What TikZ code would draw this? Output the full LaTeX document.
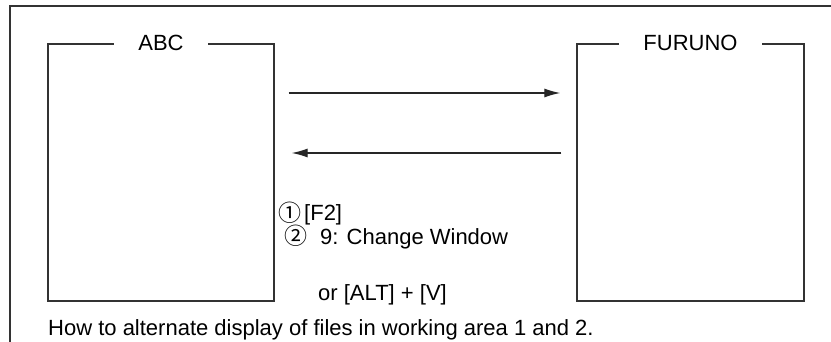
\documentclass[tikz,border=0pt]{standalone}
\usepackage{fontspec}
\setmainfont{Liberation Sans}
\newfontfamily\cjkcirc{Noto Sans CJK JP}
\usetikzlibrary{calc,arrows.meta}
\begin{document}
\begin{tikzpicture}[x=1pt,y=-1pt,
 frame/.style={draw=black!80, line width=1.6pt},
 panel/.style={draw=black!80, line width=1.3pt, minimum width=226pt, minimum height=257pt, inner sep=0pt},
 paneltitle/.style={fill=white, inner xsep=24pt, inner ysep=2pt, font=\fontsize{22}{26}\selectfont},
 txt/.style={anchor=base west, inner sep=0pt, font=\fontsize{22}{26}\selectfont},
 circnum/.style={anchor=base west, inner sep=0pt, font=\cjkcirc\fontsize{23}{26}\selectfont},
 arr/.style={draw=black!85, line width=1.2pt, -{Latex[length=16pt,width=9pt]}}]
\useasboundingbox (0,0) rectangle (831,342);
\coordinate (ftr) at (831,6);
\coordinate (ftl) at (10,6);
\coordinate (fbl) at (10,342);
\draw[frame] (ftr) -- (ftl) -- (fbl);
\node[panel] (abc) at (161,172.5) {};
\node[panel, minimum width=227pt] (furuno) at (690.5,172.5) {};
\node[paneltitle] (abct) at (abc.north) {ABC};
\node[paneltitle] (furt) at (furuno.north) {FURUNO};
\draw[arr] ($(abc.east)+(14,-79.5)$) -- ($(furuno.west)+(-16,-79.5)$);
\draw[arr] ($(furuno.west)+(-15,-19.5)$) -- ($(abc.east)+(17,-19.5)$);
\node[circnum] (c1) at (278,222) {①};
\node[txt] (t1) at (304,221) {[F2]};
\node[circnum] (c2) at (284,245) {②};
\node[txt] (t2) at (320,244) {9: Change Window};
\node[txt] (t3) at (318,300) {or [ALT] + [V]};
\node[txt] (cap) at (48,335) {How to alternate display of files in working area 1 and 2.};
\end{tikzpicture}
\end{document}
